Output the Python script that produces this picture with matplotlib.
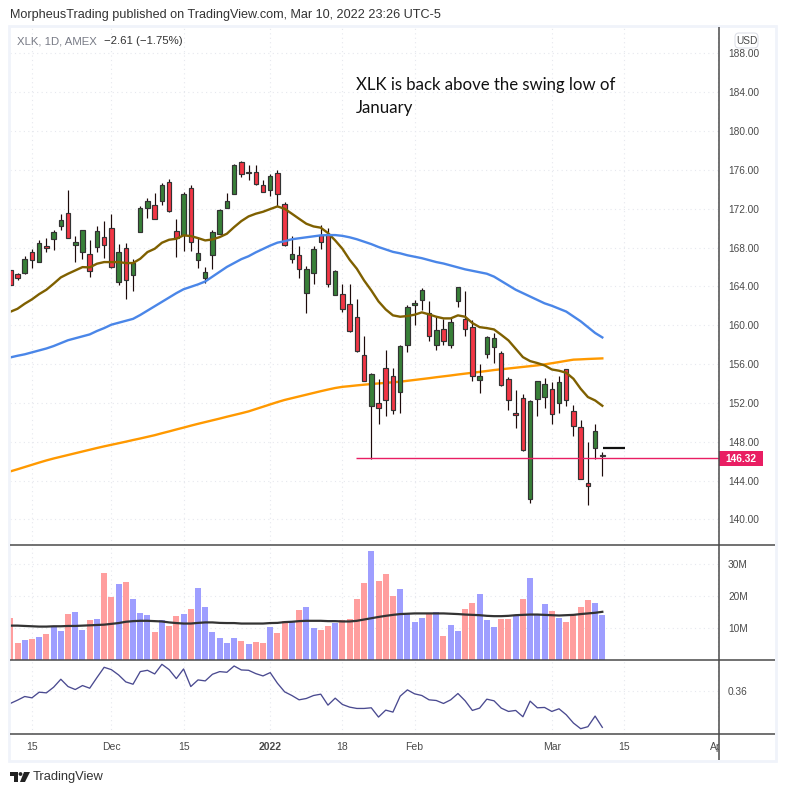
import matplotlib
matplotlib.use("Agg")
import matplotlib.pyplot as plt
import numpy as np
from matplotlib.patches import Polygon, Rectangle, Circle, FancyBboxPatch
from matplotlib.transforms import Bbox

opens = [165.64,165.30,165.37,167.56,166.53,168.18,168.90,170.21,171.58,168.25,167.56,167.36,168.04,169.11,170.04,164.47,167.98,165.16,169.62,172.10,172.40,172.82,174.77,169.73,169.25,174.16,166.74,164.89,167.25,169.42,172.10,173.54,176.83,175.80,175.80,174.46,173.88,175.70,172.51,166.81,167.25,163.34,165.40,169.25,169.42,163.13,163.24,162.21,160.87,156.96,151.70,152.01,155.62,154.79,153.15,157.99,162.10,162.62,161.28,157.99,159.63,157.99,162.52,160.66,159.84,154.35,157.06,157.78,157.16,154.48,151.00,152.53,142.12,152.42,152.63,153.45,152.01,155.51,151.19,149.54,143.77,147.38,146.56]
highs = [165.70,165.40,167.15,167.80,168.73,169.01,169.83,171.48,173.88,169.14,169.83,168.73,170.17,170.69,171.41,168.32,168.49,166.77,172.30,173.06,173.57,174.67,175.08,170.89,173.67,174.46,169.01,166.02,169.83,171.96,173.57,176.55,176.94,176.46,176.46,174.91,175.60,175.94,172.68,169.14,168.11,166.05,168.11,170.28,170.04,165.71,164.20,164.20,162.65,158.84,155.10,154.41,157.40,155.62,157.99,162.10,162.55,163.86,162.45,160.83,160.59,160.83,163.96,163.48,160.56,156.03,158.91,159.22,157.37,154.69,153.35,152.94,152.32,154.28,154.59,154.17,154.79,155.51,151.81,150.26,147.99,149.85,146.96]
lows = [164.10,164.61,165.23,165.85,166.53,167.50,167.70,169.76,169.01,166.47,166.77,164.95,167.50,166.88,165.92,164.10,162.69,163.51,169.62,171.00,170.93,172.34,171.65,166.98,167.60,167.60,165.85,164.34,165.74,169.42,172.03,173.54,175.25,174.91,174.43,173.71,173.30,172.27,168.15,166.40,164.85,161.25,164.27,167.87,163.92,163.13,161.35,159.29,157.23,154.28,146.25,149.85,150.64,150.85,150.95,157.23,160.01,161.59,158.36,157.44,157.95,157.64,161.86,158.88,154.24,153.01,156.61,156.10,153.73,151.26,149.40,147.07,141.71,150.64,151.46,149.81,150.95,151.67,148.58,144.18,141.47,146.25,144.46]
closes = [164.13,164.85,166.84,166.74,168.49,167.94,169.62,170.86,169.01,168.59,169.83,165.61,169.73,168.25,166.02,167.56,164.68,166.40,172.10,172.82,170.96,174.46,171.79,169.01,173.54,168.59,167.46,165.50,169.62,171.89,172.82,176.52,175.60,175.70,174.57,173.71,175.39,173.50,168.22,167.36,165.81,165.81,167.87,168.59,164.27,165.57,161.69,159.43,157.33,154.28,155.00,151.50,152.32,151.29,157.88,161.90,162.31,163.65,158.91,159.53,158.40,160.35,163.96,159.63,154.79,154.79,158.81,158.71,153.83,152.32,150.80,147.14,152.22,154.28,153.97,150.88,154.17,152.32,149.64,144.18,143.43,149.13,146.60]

ma_brown = [161.38,161.69,162.21,162.66,163.20,163.65,164.27,164.92,165.30,165.64,165.98,165.95,166.33,166.50,166.50,166.50,166.40,166.40,166.84,167.53,167.87,168.49,168.80,168.90,169.25,169.18,168.97,168.73,168.83,169.07,169.42,170.10,170.72,171.20,171.48,171.68,171.96,172.23,171.99,171.48,170.96,170.45,170.17,170.04,169.49,168.73,167.87,166.74,165.81,164.61,163.58,162.45,161.62,161.01,160.87,160.94,161.08,161.32,161.11,160.87,160.70,160.70,161.01,160.87,160.22,159.80,159.70,159.56,159.01,158.43,157.57,156.71,156.30,156.10,155.86,155.44,155.31,155.10,154.48,153.45,152.60,152.25,151.70]
ma_blue = [156.68,156.85,157.0,157.2,157.4,157.6,157.85,158.15,158.45,158.65,158.85,159.05,159.4,159.7,160.05,160.25,160.45,160.65,161.05,161.5,161.95,162.4,162.85,163.3,163.7,163.95,164.2,164.5,165.0,165.5,166.0,166.4,166.8,167.1,167.5,167.85,168.2,168.5,168.65,168.85,168.95,169.05,169.15,169.25,169.28,169.28,169.2,169.05,168.85,168.6,168.35,168.05,167.8,167.55,167.4,167.2,167.05,166.9,166.7,166.5,166.35,166.15,165.95,165.75,165.6,165.45,165.3,165.0,164.55,164.1,163.65,163.3,162.95,162.6,162.25,162.0,161.7,161.4,160.9,160.4,159.8,159.2,158.74]
ma_orange = [144.94,145.16,145.39,145.62,145.85,146.07,146.27,146.45,146.63,146.81,146.99,147.17,147.35,147.52,147.68,147.84,148.0,148.17,148.33,148.5,148.67,148.87,149.06,149.26,149.45,149.65,149.84,150.02,150.2,150.38,150.57,150.75,150.93,151.12,151.36,151.6,151.84,152.08,152.3,152.48,152.66,152.84,153.02,153.2,153.37,153.53,153.65,153.72,153.8,153.87,153.94,154.0,154.06,154.12,154.18,154.27,154.36,154.45,154.54,154.64,154.73,154.82,154.92,155.01,155.1,155.19,155.28,155.38,155.46,155.54,155.62,155.7,155.78,155.86,155.96,156.08,156.2,156.33,156.45,156.48,156.52,156.55,156.58]

volume = [13.1,5.3,6.3,6.6,7.2,8.1,10.3,9.1,14.4,15.0,9.4,12.5,12.8,27.2,19.7,23.8,24.4,19.1,14.7,14.1,8.8,12.5,10.6,13.8,14.4,15.9,22.5,16.6,8.8,6.9,5.3,6.9,5.9,5.0,5.6,5.3,10.3,8.4,12.2,12.2,15.6,16.6,10.0,9.4,10.6,11.6,12.5,12.8,19.1,24.1,33.8,24.7,26.9,20.0,22.2,14.4,11.9,13.1,14.4,15.0,7.5,10.9,9.1,15.9,17.8,20.6,12.5,10.3,12.8,12.8,13.8,19.1,25.6,14.1,17.5,15.3,13.1,11.9,14.1,16.6,18.8,17.8,14.1]
vol_side = "rrbrbrbbrb" "brbrrbrbbb" "rbrrbrbbbb" "bbrbrrbrrb" "rbbrrbrrrr" "brrrbbbbrb" "rbbrrbbbrr" "brbbbrbrrr" "rbb"
vol_ma = [10.7,10.7,10.6,10.5,10.4,10.4,10.5,10.5,10.6,10.6,10.7,10.8,10.9,11.0,11.25,11.5,11.9,12.1,12.2,12.2,12.1,12.0,11.7,11.5,11.35,11.35,11.55,11.7,11.7,11.55,11.5,11.5,11.35,11.35,11.35,11.35,11.5,11.55,11.8,11.9,12.1,12.2,12.2,12.2,12.1,12.1,12.0,12.0,12.2,12.6,13.0,13.4,13.75,14.05,14.3,14.4,14.5,14.5,14.5,14.5,14.5,14.4,14.3,14.15,14.05,13.95,13.75,13.65,13.65,13.75,13.95,14.05,14.15,14.15,14.05,13.95,13.85,13.95,14.05,14.3,14.5,14.7,15.0]
indicator = [.341,.346,.3515,.3495,.358,.357,.3655,.3775,.3665,.362,.368,.364,.380,.3955,.392,.384,.3735,.370,.389,.391,.3855,.400,.392,.3785,.393,.3665,.3765,.375,.385,.389,.388,.3975,.3915,.391,.386,.3825,.3875,.3715,.3585,.353,.3465,.3485,.353,.355,.3385,.349,.3395,.3355,.3335,.3335,.3345,.3205,.331,.328,.352,.3615,.3555,.353,.3465,.3455,.341,.3465,.356,.345,.3305,.334,.3475,.345,.334,.329,.3305,.321,.3445,.3345,.335,.329,.333,.324,.3115,.303,.306,.322,.305]

date_ticks = [3,14,24,36,46,56,75,85,98]
date_labels = ["15","Dec","15","2022","18","Feb","Mar","15","Apr"]
price_ticks = list(range(140,189,4))
vol_ticks = [10,20,30]
vol_tick_labels = ["10M","20M","30M"]
ind_ticks = [0.36]
last_price = 146.32
swing_low = 146.32
ext_level = 147.3

plt.rcParams['font.family'] = ['Liberation Sans','DejaVu Sans']
W,H = 785,795
fig = plt.figure(figsize=(W/100,H/100),dpi=100,facecolor='white')
def pax(x0,y0,x1,y1):
    return fig.add_axes([x0/W,1-y1/H,(x1-x0)/W,(y1-y0)/H])
L,R = 10,719
ax  = pax(L,27,R,545)
axv = pax(L,545,R,660)
axi = pax(L,660,R,734)
xlim = (-0.04,98.16)
GRID = '#e6e8ee'
for a in (ax,axv,axi):
    a.set_xlim(*xlim)
    for s in a.spines.values(): s.set_visible(False)
    a.yaxis.tick_right()
    a.tick_params(axis='y',length=0,pad=6.5,labelsize=7.3,labelcolor='#4a4a4a')
    a.tick_params(axis='x',length=0)
    a.set_xticks(date_ticks)
    a.grid(True,color=GRID,lw=0.8,ls=(0,(1,3)))
    a.set_axisbelow(True)
    a.patch.set_alpha(0)

x = np.arange(len(opens))
o,h,l,c = map(np.array,(opens,highs,lows,closes))
up = c>=o
ax.set_ylim(137.36,190.71)
ax.set_yticks(price_ticks)
ax.set_yticklabels([f"{p:.2f}" for p in price_ticks])
ax.set_xticklabels([])
ax.plot(x,ma_orange,color='#ff9900',lw=1.7,zorder=2)
ax.vlines(x,l,h,color='#1c0a0a',lw=0.85,zorder=3)
ax.bar(x,np.abs(c-o),bottom=np.minimum(o,c),width=0.62,
       color=np.where(up,'#388038','#f23645'),edgecolor='#333333',lw=0.85,zorder=4)
ax.plot(x,ma_brown,color='#7f6000',lw=1.7,zorder=5)
ax.plot(x,ma_blue,color='#4a86e8',lw=1.7,zorder=5)
ax.hlines(swing_low,47.9,xlim[1],color='#e91e63',lw=1.0,zorder=6)
ax.hlines(ext_level,82.15,85.1,color='#111111',lw=1.6,zorder=6)

axv.set_ylim(0,35.8)
axv.set_yticks(vol_ticks)
axv.set_yticklabels(vol_tick_labels)
axv.set_xticklabels([])
axv.bar(x,volume,width=0.83,color=['#9e9eff' if s=='b' else '#ff9e9e' for s in vol_side],zorder=2)
axv.plot(x,vol_ma,color='#333333',lw=1.6,zorder=3)

axi.set_ylim(0.295,0.4065)
axi.set_yticks(ind_ticks)
axi.set_yticklabels([f"{t:.2f}" for t in ind_ticks])
axi.plot(x,indicator,color='#4a4a90',lw=0.95)
axi.set_xticklabels(date_labels)
axi.tick_params(axis='x',pad=6,labelsize=7.5,labelcolor='#4a4a4a')
clip = Bbox([[L,0],[R,H]])
for lab in axi.get_xticklabels():
    lab.set_clip_on(True); lab.set_clip_box(clip)
    if lab.get_text()=="2022":
        lab.set_fontweight('bold')

# page furniture in pixel coordinates
ov = fig.add_axes([0,0,1,1],zorder=10)
ov.set_xlim(0,W); ov.set_ylim(H,0); ov.axis('off'); ov.patch.set_alpha(0)
ov.add_patch(Rectangle((9,26),767,735,fill=False,ec='#f0f3fa',lw=2))
for y in (545,660,734):
    ov.plot([L,775],[y,y],color='#4a4a4a',lw=1.1,solid_capstyle='butt')
ov.plot([R,R],[27,760],color='#4a4a4a',lw=1.1,solid_capstyle='butt')
ov.text(10,15,"MorpheusTrading published on TradingView.com, Mar 10, 2022 23:26 UTC-5",
        fontsize=9.1,color='#333333',va='center',ha='left')
ov.text(17,41,"XLK, 1D, AMEX",fontsize=8.2,color='#787b86',va='center',ha='left')
ov.text(104,41,"\u22122.61 (\u22121.75%)",fontsize=8.2,color='#333333',va='center',ha='left')
ov.text(356,85,"XLK is back above the swing low of",fontsize=12.1,family='Lato',color='#111111',va='center',ha='left')
ov.text(356,108,"January",fontsize=12.1,family='Lato',color='#111111',va='center',ha='left')
ov.add_patch(FancyBboxPatch((735,33),23,15,boxstyle="round,pad=0,rounding_size=4",fc='white',ec='#dfe1e8',lw=0.8))
ov.text(746.5,41,"USD",fontsize=7.3,color='#4a4a4a',ha='center',va='center')
ov.add_patch(Rectangle((R,451),44,15,fc='#e91e63',ec='none'))
ov.text(741,458.7,f"{last_price:.2f}",fontsize=7.3,color='white',fontweight='bold',ha='center',va='center')
ov.add_patch(Polygon([(10,772),(18,772),(18,782),(14,782),(14,776),(10,776)],fc='#222222',ec='none'))
ov.add_patch(Circle((20.5,774),1.9,fc='#222222',ec='none'))
ov.add_patch(Polygon([(24,772),(30,772),(25,782),(20,782)],fc='#222222',ec='none'))
ov.text(33,777,"TradingView",fontsize=9.3,color='#333333',va='center',ha='left')

fig.savefig("out.png",dpi=100,facecolor='white')
